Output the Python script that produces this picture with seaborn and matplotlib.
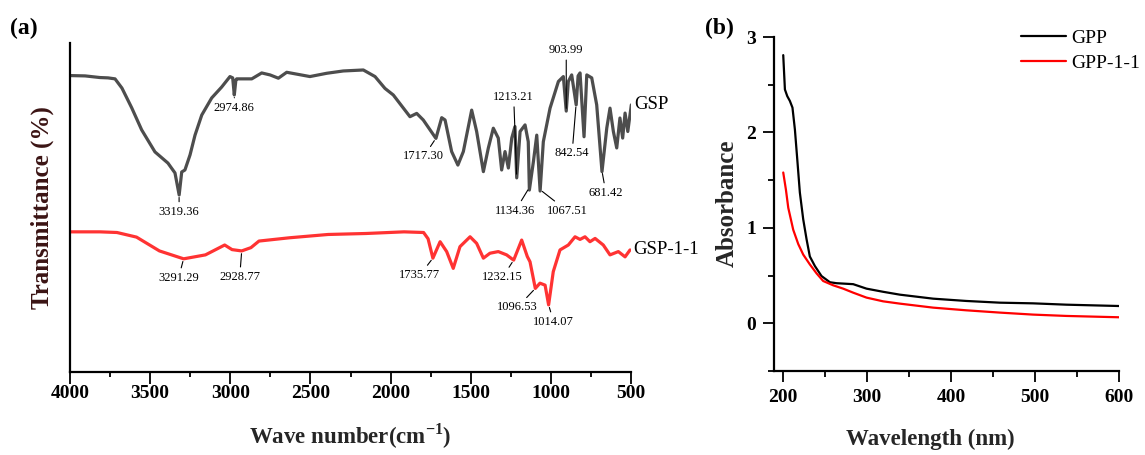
import numpy as np
import matplotlib
matplotlib.use("Agg")
import matplotlib.pyplot as plt
import seaborn as sns
from matplotlib.ticker import MultipleLocator

# (a) FT-IR, transmittance in arbitrary offset units (no y scale in figure)
gsp_wn = [4000, 3906, 3813, 3763, 3719, 3676, 3615, 3553, 3470, 3389, 3345, 3319,
          3303, 3283, 3251, 3220, 3178, 3116, 3054, 3002, 2985, 2975, 2965, 2960,
          2866, 2804, 2752, 2700, 2648, 2503, 2398, 2295, 2170, 2097, 2035, 1983,
          1879, 1837, 1796, 1717, 1681, 1660, 1619, 1580, 1546, 1494, 1463, 1421,
          1390, 1359, 1328, 1307, 1286, 1265, 1244, 1224, 1213, 1192, 1161, 1141,
          1134, 1109, 1088, 1067, 1047, 1005, 953, 922, 904, 891, 870, 842, 830,
          818, 793, 776, 745, 714, 681, 651, 631, 610, 589, 569, 552, 537, 520, 498]
gsp_t = [90.1, 90.0, 89.5, 89.4, 89.1, 86.3, 80.3, 73.6, 66.9, 63.5, 60.5, 53.8,
         60.8, 61.4, 66.0, 72.0, 78.1, 83.3, 86.6, 89.8, 89.4, 84.2, 88.8, 89.1,
         89.1, 90.9, 90.3, 89.3, 91.1, 89.8, 90.8, 91.5, 91.8, 89.8, 86.2, 84.2,
         77.6, 78.6, 76.6, 71.0, 77.3, 76.6, 67.0, 62.9, 67.0, 79.6, 73.1, 60.9,
         68.1, 74.1, 71.1, 61.4, 67.0, 62.0, 71.1, 74.6, 59.0, 73.1, 75.1, 70.0,
         55.3, 63.9, 72.0, 55.0, 70.0, 80.2, 88.3, 89.8, 79.3, 88.3, 90.3, 81.2, 90.0,
         90.9, 71.5, 90.3, 89.4, 81.2, 60.9, 74.2, 80.2, 73.1, 68.1, 77.2, 71.1, 78.7, 73.1, 81.2]

gsp11_wn = [4000, 3813, 3707, 3585, 3442, 3291, 3155, 3035, 2989, 2929, 2871, 2821,
            2630, 2390, 2153, 1916, 1794, 1766, 1736, 1691, 1650, 1609, 1567, 1504,
            1463, 1421, 1380, 1328, 1276, 1232, 1182, 1147, 1130, 1097, 1068, 1036,
            1014, 985, 943, 891, 849, 818, 787, 756, 724, 673, 631, 579, 537, 506]
gsp11_t = [42.6, 42.6, 42.4, 41.0, 36.8, 34.4, 35.6, 38.6, 37.2, 36.8, 37.8, 39.8,
           40.8, 41.8, 42.1, 42.6, 42.4, 40.5, 34.6, 39.6, 36.6, 31.5, 38.1, 41.1,
           39.1, 34.6, 36.1, 36.6, 35.6, 34.0, 40.1, 35.1, 33.5, 25.4, 27.0, 26.4,
           20.4, 30.5, 37.1, 38.6, 41.1, 40.3, 41.1, 39.6, 40.6, 38.6, 35.6, 36.6, 35.0, 37.1]

gsp_peaks = [3319.36, 2974.86, 1717.30, 1213.21, 1134.36, 1067.51, 903.99, 842.54, 681.42]
gsp11_peaks = [3291.29, 2928.77, 1735.77, 1232.15, 1096.53, 1014.07]

# (b) UV-vis
gpp_wl = [200, 202, 204.8, 207.9, 211, 213.9, 216.7, 219.8, 223.8, 227.8, 231.7,
          237.7, 245.6, 255.6, 263.5, 283.3, 299.2, 319, 338.9, 378.6, 418, 458,
          497.6, 537.3, 600]
gpp_abs = [2.81, 2.45, 2.38, 2.33, 2.26, 2.03, 1.72, 1.37, 1.09, 0.88, 0.70,
           0.60, 0.495, 0.43, 0.42, 0.41, 0.363, 0.33, 0.30, 0.258, 0.234, 0.216,
           0.209, 0.195, 0.181]
gpp11_wl = [200, 203.2, 206, 211.9, 217.9, 223.8, 231.7, 239.7, 247.6, 259.5,
            271.4, 283.3, 299.2, 319, 338.9, 378.6, 418, 458, 497.6, 537.3, 600]
gpp11_abs = [1.58, 1.40, 1.21, 0.98, 0.83, 0.72, 0.617, 0.523, 0.443, 0.398,
             0.363, 0.321, 0.269, 0.230, 0.206, 0.164, 0.136, 0.112, 0.091, 0.077, 0.063]


def label_peaks(ax, wn, t, peaks, offsets):
    x = np.array(wn, dtype=float)[::-1]
    y = np.array(t, dtype=float)[::-1]
    for p, (dx, dy) in zip(peaks, offsets):
        yp = np.interp(p, x, y)
        ax.annotate(f"{p:.2f}", xy=(p, yp), xytext=(dx, dy), textcoords="offset pixels",
                    ha="center", va="center", fontsize=9,
                    arrowprops=dict(arrowstyle="-", color="black", lw=0.8,
                                    shrinkA=0.5, shrinkB=2))


def style_axes(ax):
    for side in ["top", "right"]:
        ax.spines[side].set_visible(False)
    for side in ["left", "bottom"]:
        ax.spines[side].set_linewidth(1.6)
        ax.spines[side].set_color("black")


def plot_ftir(ax):
    sns.lineplot(x=gsp_wn, y=gsp_t, ax=ax, color="#4d4d4d", lw=2.3, estimator=None)
    sns.lineplot(x=gsp11_wn, y=gsp11_t, ax=ax, color="#ff3333", lw=2.3, estimator=None)
    ax.set_xlim(4000, 500)
    ax.set_ylim(0, 100)
    style_axes(ax)
    ax.xaxis.set_major_locator(MultipleLocator(500))
    ax.xaxis.set_minor_locator(MultipleLocator(250))
    ax.set_yticks([])
    ax.tick_params(axis="x", which="major", direction="out", length=8.5, width=1.3,
                   pad=1, labelsize=14)
    ax.tick_params(axis="x", which="minor", direction="out", length=3.5, width=1.3)
    for lab in ax.get_xticklabels():
        lab.set_fontweight("bold")

    label_peaks(ax, gsp_wn, gsp_t, gsp_peaks,
                [(0, -17), (0, -13), (-12, -18), (-3, 80), (-14, -23),
                 (27, -21), (0, 61), (-4, -49), (4, -22)])
    label_peaks(ax, gsp11_wn, gsp11_t, gsp11_peaks,
                [(-5, -19), (-2, -26), (-13, -17), (-11, -17), (-18, -19), (5, -17)])

    ax.annotate("GSP", xy=(gsp_wn[-1], gsp_t[-1]), xytext=(3, 0), textcoords="offset pixels",
                ha="left", va="center", fontsize=13.5)
    ax.annotate("GSP-1-1", xy=(gsp11_wn[-1], gsp11_t[-1]), xytext=(3, 0),
                textcoords="offset pixels", ha="left", va="center", fontsize=13.5)

    ax.set_xlabel(r"Wave number(cm$^{\mathbf{-1}}$)", fontsize=16.5, fontweight="bold")
    ax.xaxis.label.set_va("center")
    ax.xaxis.set_label_coords(0.5, -0.1945)
    ax.set_ylabel("Transmittance (%)", fontsize=18, fontweight="bold", color="#3b1414")
    ax.yaxis.label.set_va("center")
    ax.yaxis.set_label_coords(-0.05, 0.5)


def plot_uv(ax):
    sns.lineplot(x=gpp_wl, y=gpp_abs, ax=ax, color="black", lw=1.6, estimator=None, label="GPP")
    sns.lineplot(x=gpp11_wl, y=gpp11_abs, ax=ax, color="#ff0000", lw=1.6, estimator=None,
                 label="GPP-1-1")
    ax.set_xlim(189, 600)
    ax.set_ylim(-0.5, 3)
    style_axes(ax)
    ax.xaxis.set_major_locator(MultipleLocator(100))
    ax.xaxis.set_minor_locator(MultipleLocator(50))
    ax.yaxis.set_major_locator(MultipleLocator(1))
    ax.yaxis.set_minor_locator(MultipleLocator(0.5))
    ax.tick_params(which="major", direction="out", length=8, width=1.3, pad=5, labelsize=14)
    ax.tick_params(which="minor", direction="out", length=4, width=1.3)
    for lab in ax.get_xticklabels() + ax.get_yticklabels():
        lab.set_fontweight("bold")

    ax.set_xlabel("Wavelength (nm)", fontsize=16.5, fontweight="bold")
    ax.xaxis.label.set_va("center")
    ax.xaxis.set_label_coords(0.452, -0.2036)
    ax.set_ylabel("Absorbance", fontsize=18, fontweight="bold")
    ax.yaxis.label.set_va("center")
    ax.yaxis.set_label_coords(-0.136, 0.503)

    ax.legend(loc="upper left", bbox_to_anchor=(1021 / 1145, 1 - 29 / 455),
              bbox_transform=ax.figure.transFigure, frameon=False, fontsize=14,
              handlelength=2.3, handletextpad=0.3, labelspacing=0.4,
              borderpad=0, borderaxespad=0)


def main():
    sns.set_theme(style="ticks")
    plt.rcParams["font.family"] = ["Liberation Serif", "DejaVu Serif"]
    plt.rcParams["mathtext.fontset"] = "custom"
    plt.rcParams["mathtext.rm"] = "Liberation Serif"
    plt.rcParams["mathtext.bf"] = "Liberation Serif:bold"
    plt.rcParams["text.color"] = "black"
    plt.rcParams["xtick.color"] = "black"
    plt.rcParams["ytick.color"] = "black"

    fig = plt.figure(figsize=(11.45, 4.55), dpi=100)
    ax1 = fig.add_axes([70 / 1145, 83 / 455, 561 / 1145, 329 / 455])
    ax2 = fig.add_axes([774 / 1145, 84 / 455, 345 / 1145, 334 / 455])

    plot_ftir(ax1)
    plot_uv(ax2)

    fig.text(10 / 1145, 1 - 28 / 455, "(a)", fontsize=17, fontweight="bold", va="center")
    fig.text(705 / 1145, 1 - 28 / 455, "(b)", fontsize=17, fontweight="bold", va="center")

    fig.savefig("out.png", dpi=100)


if __name__ == "__main__":
    main()
